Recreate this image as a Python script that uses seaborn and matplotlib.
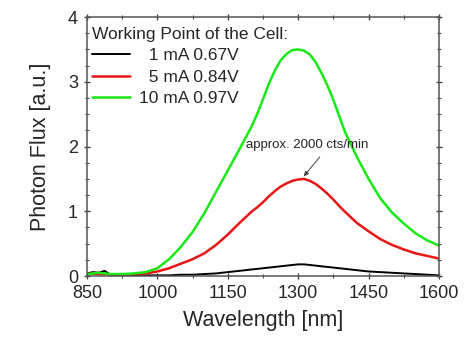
import matplotlib
matplotlib.use("Agg")
import matplotlib.pyplot as plt
import seaborn as sns
import pandas as pd

wavelength = [850, 862.5, 875, 887.5, 900, 925, 950, 975, 1000, 1025, 1050,
              1075, 1100, 1125, 1150, 1175, 1200, 1212.5, 1225, 1237.5, 1250,
              1262.5, 1275, 1287.5, 1300, 1312.5, 1325, 1337.5, 1350, 1362.5,
              1375, 1387.5, 1400, 1425, 1450, 1475, 1500, 1525, 1550, 1575, 1600]

flux_1mA = [0.04, 0.06, 0.05, 0.08, 0.02, 0.01, 0.01, 0.01, 0.01, 0.01, 0.02,
            0.02, 0.03, 0.04, 0.06, 0.08, 0.10, 0.11, 0.12, 0.13, 0.14,
            0.15, 0.16, 0.17, 0.18, 0.18, 0.17, 0.16, 0.15, 0.14,
            0.13, 0.12, 0.11, 0.09, 0.07, 0.06, 0.05, 0.04, 0.03, 0.02, 0.01]

flux_5mA = [0.03, 0.04, 0.03, 0.03, 0.02, 0.02, 0.03, 0.04, 0.07, 0.12, 0.19,
            0.26, 0.35, 0.48, 0.64, 0.82, 0.99, 1.06, 1.14, 1.23, 1.31,
            1.38, 1.43, 1.47, 1.49, 1.50, 1.47, 1.42, 1.35, 1.27,
            1.18, 1.08, 0.99, 0.82, 0.69, 0.57, 0.48, 0.41, 0.35, 0.31, 0.27]

flux_10mA = [0.03, 0.04, 0.05, 0.04, 0.03, 0.03, 0.04, 0.06, 0.12, 0.26, 0.45,
             0.68, 0.97, 1.30, 1.63, 1.96, 2.30, 2.50, 2.73, 2.97, 3.17,
             3.33, 3.43, 3.49, 3.50, 3.48, 3.42, 3.30, 3.13, 2.94,
             2.72, 2.47, 2.22, 1.84, 1.50, 1.20, 0.98, 0.81, 0.66, 0.55, 0.47]

labels = ["  1 mA 0.67V", "  5 mA 0.84V", "10 mA 0.97V"]
colors = ["#000000", "#e81515", "#18e818"]

x_major = [850, 1000, 1150, 1300, 1450, 1600]
x_minor = [925, 1075, 1225, 1375, 1525]
y_major = [0, 1, 2, 3, 4]

rows = []
for lab, ys in zip(labels, [flux_1mA, flux_5mA, flux_10mA]):
    for x, y in zip(wavelength, ys):
        rows.append({"Wavelength": x, "Flux": y, "Series": lab})
df = pd.DataFrame(rows)

sns.set_style("white")
plt.rcParams['font.family'] = ['Liberation Sans', 'DejaVu Sans']

fig = plt.figure(figsize=(4.69, 3.41), dpi=100)
ax = fig.add_axes([0.1855, 0.1906, 0.7505, 0.7594])

sns.lineplot(data=df, x="Wavelength", y="Flux", hue="Series",
             palette=dict(zip(labels, colors)), hue_order=labels,
             ax=ax, linewidth=1.8, legend=False)
ax.lines[0].set_linewidth(1.4)

ax.set_xlim(850, 1600)
ax.set_ylim(0, 4)
ax.set_xticks(x_major)
ax.set_xticks(x_minor, minor=True)
ax.set_yticks(y_major)
ax.set_yticks([v / 4 for v in range(0, 17) if v % 4], minor=True)
ax.tick_params(which='both', direction='inout', top=True, right=True,
               bottom=True, left=True, labeltop=False, labelright=False,
               color='#444444', labelsize=13, pad=4)
ax.tick_params(which='major', length=5, width=1)
ax.tick_params(which='minor', length=3, width=0.8)
for sp in ax.spines.values():
    sp.set_color('#555555')
    sp.set_linewidth(1.1)

ax.set_xlabel("Wavelength [nm]", fontsize=15.5, labelpad=6)
ax.set_ylabel("Photon Flux [a.u.]", fontsize=15.5, labelpad=12)

handles = [plt.Line2D([], [], color=c, lw=(1.4 if i == 0 else 1.8))
           for i, c in enumerate(colors)]
leg = ax.legend(handles, labels, title="Working Point of the Cell:",
                loc='upper left', bbox_to_anchor=(0.009, 0.968),
                frameon=False, fontsize=12.5,
                title_fontsize=12.5, handlelength=2.2, handletextpad=0.5,
                labelspacing=0.36, borderaxespad=0.0, borderpad=0.1)
leg._legend_box.align = "left"

ax.text(1319, 2.02, "approx. 2000 cts/min", ha='center', va='center',
        fontsize=9.5)
ax.annotate("", xy=(1312, 1.54), xytext=(1346, 1.84),
            arrowprops=dict(arrowstyle='-|>', color='#444444', lw=0.7,
                            mutation_scale=7, shrinkA=0, shrinkB=0))

fig.savefig("out.png", dpi=100)
